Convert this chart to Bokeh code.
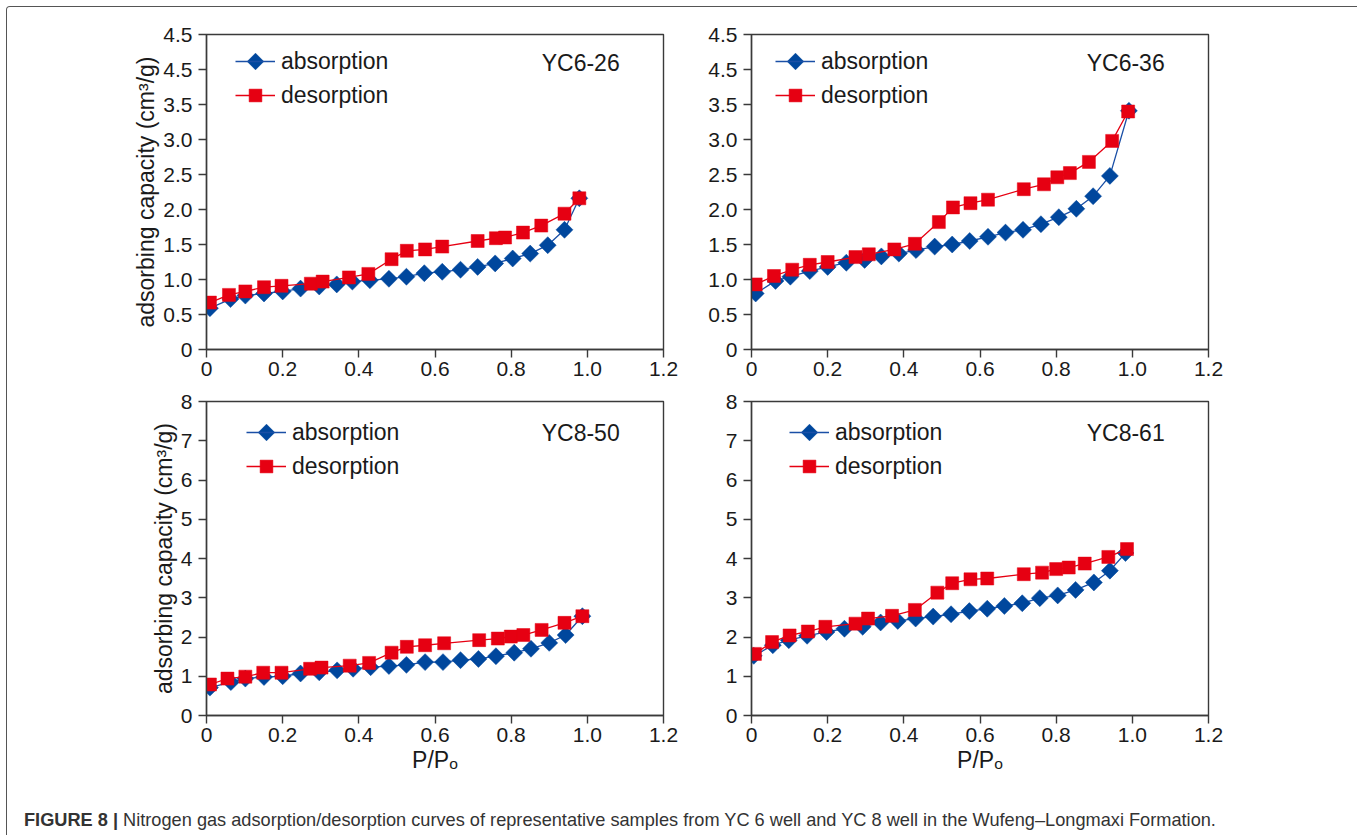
import numpy as np
from bokeh.plotting import figure
from bokeh.models import (Range1d, FixedTicker, PrintfTickFormatter, Legend, LegendItem,
                          Label, Div, PolyAnnotation)
from bokeh.layouts import row, column
from bokeh.embed import file_html
from bokeh.resources import INLINE

# ---------------- data ----------------
x_ticks = [0, 0.2, 0.4, 0.6, 0.8, 1.0, 1.2]
y_ticks_top = [0, 0.5, 1.0, 1.5, 2.0, 2.5, 3.0, 3.5, 4.0, 4.5]
y_ticks_bottom = [0, 1, 2, 3, 4, 5, 6, 7, 8]

# YC6-26
yc626_ads_x = [0.009, 0.063, 0.102, 0.151, 0.200, 0.247, 0.296, 0.342, 0.383, 0.429, 0.479,
               0.525, 0.572, 0.619, 0.667, 0.712, 0.758, 0.804, 0.850, 0.896, 0.940, 0.979]
yc626_ads_y = [0.59, 0.72, 0.77, 0.80, 0.83, 0.87, 0.90, 0.93, 0.97, 0.99, 1.01,
               1.04, 1.09, 1.11, 1.14, 1.18, 1.23, 1.30, 1.37, 1.49, 1.71, 2.16]
yc626_des_x = [0.009, 0.059, 0.102, 0.151, 0.197, 0.274, 0.305, 0.374, 0.425, 0.486,
               0.526, 0.574, 0.619, 0.712, 0.760, 0.784, 0.831, 0.879, 0.940, 0.979]
yc626_des_y = [0.67, 0.78, 0.83, 0.89, 0.91, 0.94, 0.97, 1.03, 1.08, 1.29,
               1.41, 1.43, 1.47, 1.55, 1.59, 1.60, 1.67, 1.77, 1.94, 2.16]

# YC6-36
yc636_ads_x = [0.011, 0.063, 0.102, 0.153, 0.200, 0.249, 0.297, 0.341, 0.387, 0.432, 0.481,
               0.527, 0.573, 0.621, 0.667, 0.713, 0.760, 0.807, 0.853, 0.897, 0.941, 0.991]
yc636_ads_y = [0.80, 0.98, 1.04, 1.12, 1.18, 1.24, 1.28, 1.33, 1.37, 1.42, 1.47,
               1.50, 1.55, 1.61, 1.67, 1.71, 1.79, 1.89, 2.01, 2.19, 2.48, 3.41]
yc636_des_x = [0.011, 0.059, 0.107, 0.153, 0.200, 0.273, 0.308, 0.375, 0.429, 0.492,
               0.529, 0.575, 0.621, 0.715, 0.768, 0.803, 0.836, 0.886, 0.947, 0.989]
yc636_des_y = [0.93, 1.05, 1.14, 1.21, 1.25, 1.32, 1.36, 1.43, 1.51, 1.82,
               2.03, 2.09, 2.14, 2.29, 2.36, 2.46, 2.52, 2.68, 2.98, 3.40]

# YC8-50
yc850_ads_x = [0.009, 0.064, 0.102, 0.151, 0.200, 0.247, 0.296, 0.343, 0.385, 0.431, 0.479,
               0.525, 0.574, 0.621, 0.667, 0.714, 0.760, 0.808, 0.852, 0.900, 0.943, 0.987]
yc850_ads_y = [0.71, 0.85, 0.94, 0.98, 1.00, 1.07, 1.10, 1.15, 1.19, 1.23, 1.26,
               1.29, 1.36, 1.36, 1.41, 1.44, 1.51, 1.60, 1.70, 1.85, 2.05, 2.53]
yc850_des_x = [0.009, 0.055, 0.102, 0.149, 0.197, 0.272, 0.302, 0.376, 0.427, 0.486,
               0.526, 0.574, 0.624, 0.716, 0.765, 0.799, 0.832, 0.880, 0.940, 0.987]
yc850_des_y = [0.79, 0.94, 0.99, 1.09, 1.09, 1.19, 1.22, 1.27, 1.34, 1.60,
               1.75, 1.79, 1.84, 1.92, 1.96, 2.01, 2.05, 2.18, 2.36, 2.53]

# YC8-61
yc861_ads_x = [0.006, 0.056, 0.098, 0.146, 0.197, 0.244, 0.292, 0.339, 0.384, 0.431, 0.477,
               0.524, 0.572, 0.619, 0.664, 0.711, 0.757, 0.804, 0.851, 0.899, 0.941, 0.982]
yc861_ads_y = [1.52, 1.79, 1.92, 2.03, 2.13, 2.21, 2.26, 2.37, 2.41, 2.47, 2.52,
               2.58, 2.66, 2.72, 2.79, 2.86, 2.99, 3.06, 3.20, 3.39, 3.69, 4.14]
yc861_des_x = [0.009, 0.054, 0.100, 0.148, 0.194, 0.273, 0.306, 0.369, 0.429, 0.488,
               0.527, 0.575, 0.619, 0.715, 0.763, 0.800, 0.833, 0.875, 0.937, 0.986]
yc861_des_y = [1.57, 1.87, 2.04, 2.14, 2.26, 2.34, 2.47, 2.54, 2.69, 3.13,
               3.37, 3.47, 3.49, 3.60, 3.64, 3.73, 3.77, 3.87, 4.04, 4.24]

FONT = "Liberation Sans"
BLUE = "#00479D"
BLUE_LINE = "#1A4FA6"
RED = "#E60012"
AXIS = "#3a3a3a"

GLYPH_W = 40
GLYPH_H = 32
SPACING = 2
HALF_DIAMOND = 8.5


def make_panel(name, ax, ay, dx, dy, ymax, yticks, yfmt, ylabel_over, width, height,
               bl, br, bt, bb, legend_loc, name_y, show_ylabel, show_xlabel):
    p = figure(width=width, height=height, output_backend="svg", toolbar_location=None,
               x_range=Range1d(0, 1.2), y_range=Range1d(0, ymax),
               min_border_left=bl, min_border_right=br, min_border_top=bt, min_border_bottom=bb)
    p.grid.visible = False
    p.outline_line_color = AXIS
    p.outline_line_width = 1.4
    p.background_fill_color = "white"
    p.border_fill_color = "white"

    for axis in (p.xaxis[0], p.yaxis[0]):
        axis.axis_line_color = AXIS
        axis.axis_line_width = 1.4
        axis.major_tick_line_color = AXIS
        axis.major_tick_line_width = 1.4
        axis.major_tick_out = 8
        axis.major_tick_in = 0
        axis.minor_tick_out = 0
        axis.minor_tick_in = 0
        axis.major_label_text_font = FONT
        axis.major_label_text_font_size = "21px"
        axis.major_label_text_color = "#1a1a1a"
        axis.axis_label_text_font = FONT
        axis.axis_label_text_font_size = "23px"
        axis.axis_label_text_font_style = "normal"
        axis.axis_label_text_color = "#1a1a1a"

    p.xaxis.ticker = FixedTicker(ticks=x_ticks)
    p.xaxis.formatter = PrintfTickFormatter(format="%.1f")
    p.xaxis.major_label_overrides = {0: "0"}
    p.xaxis.major_label_standoff = 4
    p.yaxis.ticker = FixedTicker(ticks=yticks)
    p.yaxis.formatter = PrintfTickFormatter(format=yfmt)
    p.yaxis.major_label_overrides = ylabel_over
    p.yaxis.major_label_standoff = 6

    if show_ylabel:
        p.yaxis.axis_label = "adsorbing capacity (cm\u00b3/g)"
        p.yaxis.axis_label_standoff = 1
    if show_xlabel:
        p.xaxis.axis_label = "P/P\u2092"
        p.xaxis.axis_label_standoff = 2

    l1 = p.line(ax, ay, line_color=BLUE_LINE, line_width=1.3)
    p.scatter(ax, ay, marker="square", angle=np.pi / 4, size=12,
              fill_color=BLUE, line_color=BLUE, line_width=0.5)
    l2 = p.line(dx, dy, line_color=RED, line_width=1.3)
    m2 = p.scatter(dx, dy, marker="square", size=13,
                   fill_color=RED, line_color=RED, line_width=0.5)

    legend = Legend(items=[LegendItem(label="absorption", renderers=[l1]),
                           LegendItem(label="desorption", renderers=[l2, m2])],
                    location=legend_loc, orientation="vertical")
    legend.glyph_width = GLYPH_W
    legend.glyph_height = GLYPH_H
    legend.spacing = SPACING
    legend.padding = 0
    legend.margin = 0
    legend.label_standoff = 6
    legend.border_line_alpha = 0
    legend.background_fill_alpha = 0
    legend.label_text_font = FONT
    legend.label_text_font_size = "23px"
    legend.label_text_color = "#1a1a1a"
    p.add_layout(legend, "center")

    # diamond symbol for the "absorption" legend entry (Bokeh legends draw markers unrotated)
    cx = legend_loc[0] + GLYPH_W / 2
    cy = legend_loc[1] + 2 * GLYPH_H + SPACING - GLYPH_H / 2
    h = HALF_DIAMOND
    p.add_layout(PolyAnnotation(xs=[cx - h, cx, cx + h, cx], ys=[cy, cy + h, cy, cy - h],
                                xs_units="screen", ys_units="screen",
                                fill_color=BLUE, fill_alpha=1.0,
                                line_color=BLUE, line_width=0.5))

    p.add_layout(Label(x=1.085, y=name_y, text=name, text_align="right",
                       text_baseline="middle", text_font=FONT,
                       text_font_size="23px", text_color="#1a1a1a"))
    return p


top_over = {0: "0", 4.0: "4.5"}
bot_over = {}

p1 = make_panel("YC6-26", yc626_ads_x, yc626_ads_y, yc626_des_x, yc626_des_y,
                4.5, y_ticks_top, "%.1f", top_over, 692, 380, 199, 36, 27, 38,
                (29, 238), 4.1, True, False)
p2 = make_panel("YC6-36", yc636_ads_x, yc636_ads_y, yc636_des_x, yc636_des_y,
                4.5, y_ticks_top, "%.1f", top_over, 655, 380, 52, 146, 27, 38,
                (24, 238), 4.1, False, False)
p3 = make_panel("YC8-50", yc850_ads_x, yc850_ads_y, yc850_des_x, yc850_des_y,
                8, y_ticks_bottom, "%d", bot_over, 692, 398, 199, 36, 14, 70,
                (40, 233), 7.21, True, True)
p4 = make_panel("YC8-61", yc861_ads_x, yc861_ads_y, yc861_des_x, yc861_des_y,
                8, y_ticks_bottom, "%d", bot_over, 655, 398, 52, 146, 14, 70,
                (38, 233), 7.21, False, True)

caption = Div(
    text=("<div style=\"font-family:'Liberation Sans';font-size:18.2px;color:#333;"
          "margin:17px 0 0 12px;white-space:nowrap\"><b>FIGURE 8 |</b> Nitrogen gas "
          "adsorption/desorption curves of representative samples from YC 6 well and YC 8 "
          "well in the Wufeng\u2013Longmaxi Formation.</div>"),
    width=1345, height=46)

layout = column(row(p1, p2), row(p3, p4), caption, margin=(6, 0, 0, 6),
                styles={"border": "1px solid #555", "border-radius": "4px",
                        "border-bottom": "none", "background": "white"})

open("out.html", "w").write(file_html(layout, INLINE))
